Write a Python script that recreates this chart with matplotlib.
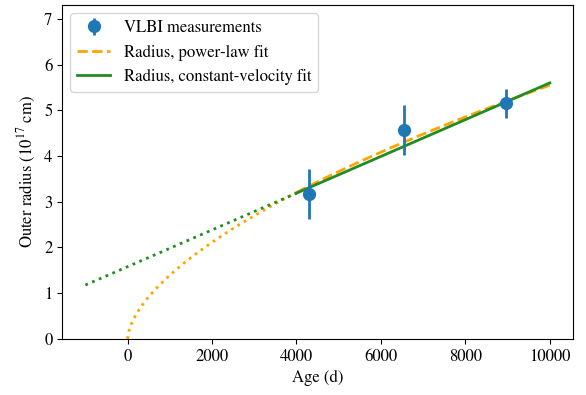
import matplotlib
matplotlib.use("Agg")
import matplotlib.pyplot as plt
import numpy as np

plt.rcParams["font.family"] = ["STIXGeneral", "Liberation Serif", "DejaVu Serif"]
plt.rcParams["mathtext.fontset"] = "stix"
plt.rcParams["font.size"] = 12

# VLBI measurements (age in days, outer radius in 1e17 cm)
obs_age = [4300, 6556, 8960]
obs_radius = [3.17, 4.57, 5.15]
obs_err = [0.55, 0.545, 0.31]

# fit parameters
pl_r10000 = 5.55      # power-law radius at t = 10000 d
pl_index = 0.6
cv_r0 = 1.58          # constant-velocity radius at t = 0
cv_slope = 4.02e-4    # per day

t_split = 4000
t_end = 10000

fig, ax = plt.subplots(figsize=(5.86, 3.95), dpi=100)

t_pl_extrap = np.linspace(0, t_split, 400)
t_fit = np.linspace(t_split, t_end, 200)
t_cv_extrap = np.linspace(-1000, t_split, 200)

def power_law(t):
    return pl_r10000 * (t / 1e4) ** pl_index

def const_vel(t):
    return cv_r0 + cv_slope * t

h_obs = ax.errorbar(obs_age, obs_radius, yerr=obs_err, fmt="o", ms=8.5, elinewidth=2,
                    color="C0", label="VLBI measurements", zorder=5)
h_pl, = ax.plot(t_fit, power_law(t_fit), "--", color="orange", lw=2,
                label="Radius, power-law fit")
ax.plot(t_pl_extrap, power_law(t_pl_extrap), ":", color="orange", lw=2)
h_cv, = ax.plot(t_fit, const_vel(t_fit), "-", color="forestgreen", lw=2,
                label="Radius, constant-velocity fit")
ax.plot(t_cv_extrap, const_vel(t_cv_extrap), ":", color="forestgreen", lw=2)

ax.set_ylim(0, 7.3)
ax.set_xlabel("Age (d)")
ax.set_ylabel(r"Outer radius ($10^{17}$ cm)")
ax.legend(handles=[h_obs, h_pl, h_cv], loc="upper left")

fig.subplots_adjust(left=0.106, right=0.978, top=0.987, bottom=0.142)
fig.savefig("out.png", dpi=100)
plt.close(fig)
